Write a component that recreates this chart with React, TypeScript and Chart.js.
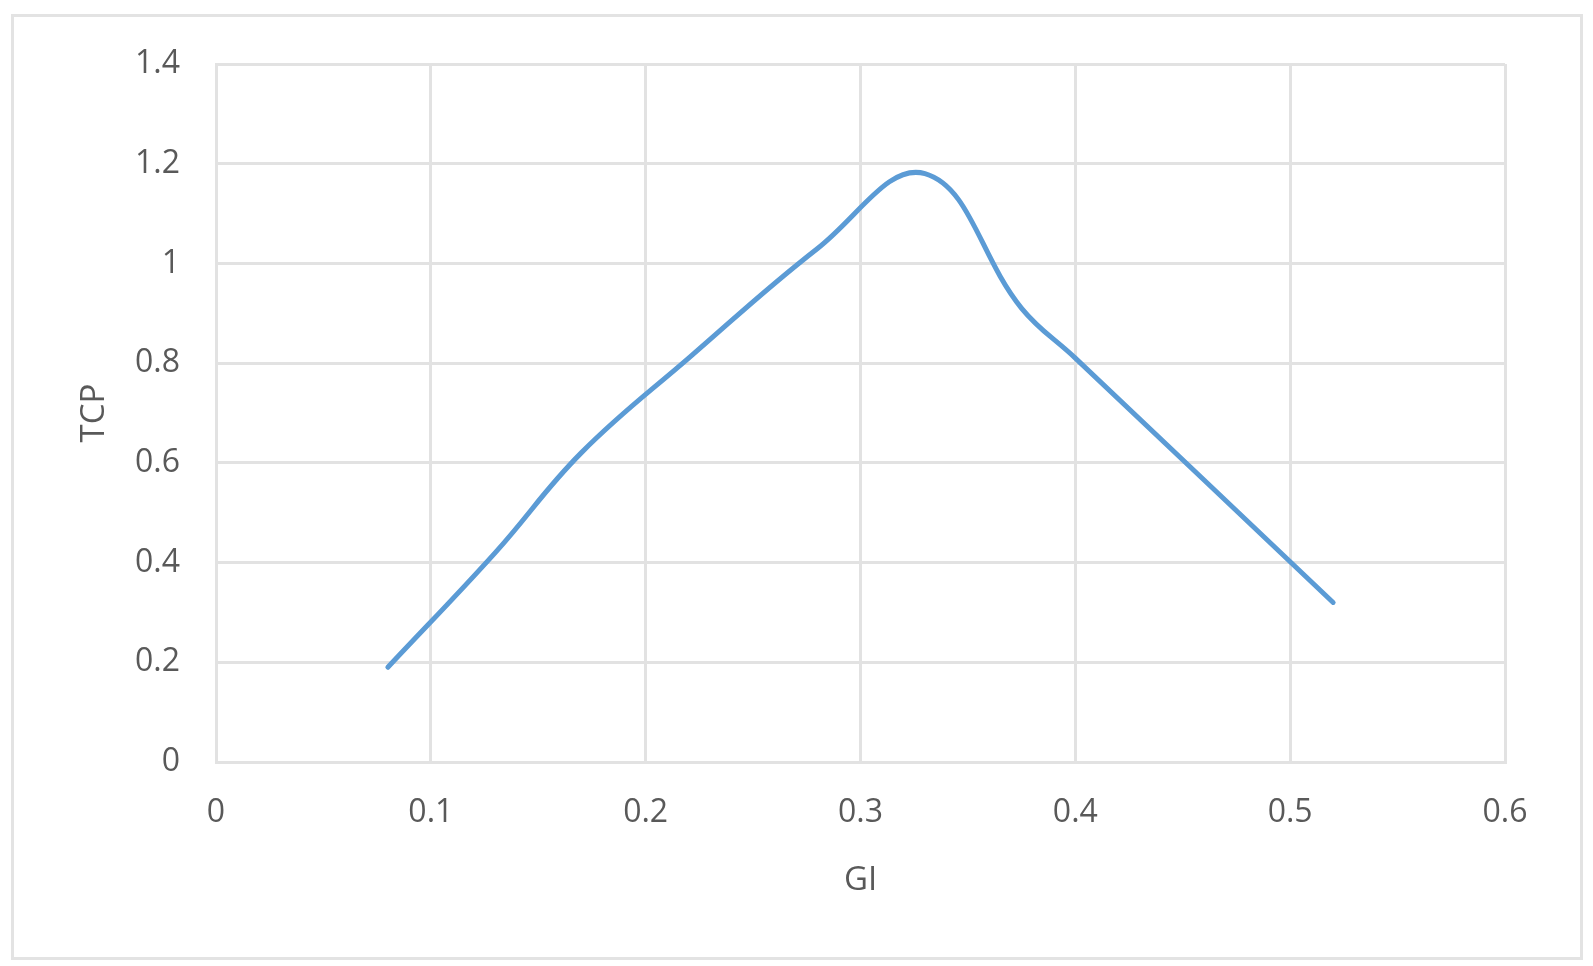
import React, { useEffect, useRef } from "react";
import { Chart, registerables } from "chart.js";

Chart.register(...registerables);

const gi = [0.08, 0.13, 0.17, 0.22, 0.28, 0.33, 0.375, 0.40, 0.52];
const tcp = [0.19, 0.42, 0.62, 0.81, 1.03, 1.18, 0.91, 0.81, 0.32];
const xTickLabels = ["0", "0.1", "0.2", "0.3", "0.4", "0.5", "0.6"];
const yTickLabels = ["0", "0.2", "0.4", "0.6", "0.8", "1", "1.2", "1.4"];
const xTitle = "GI";
const yTitle = "TCP";

const FONT = "'Open Sans', 'Segoe UI', 'DejaVu Sans', sans-serif";
const GRID = "#e2e2e2";
const TEXT = "#595959";

export default function App() {
  const ref = useRef<HTMLCanvasElement | null>(null);
  useEffect(() => {
    if (!ref.current) return;
    const chart = new Chart(ref.current, {
      type: "line",
      data: {
        datasets: [
          {
            label: yTitle,
            data: gi.map((x, i) => ({ x, y: tcp[i] })),
            borderColor: "#5b9bd5",
            borderWidth: 5,
            pointRadius: 0,
            tension: 0.4,
            fill: false,
            borderCapStyle: "round",
            borderJoinStyle: "round",
          },
        ],
      },
      options: {
        animation: false,
        responsive: false,
        maintainAspectRatio: false,
        layout: { padding: { left: 0, right: 88, top: 64, bottom: 0 } },
        plugins: { legend: { display: false }, tooltip: { enabled: false } },
        scales: {
          x: {
            type: "linear",
            min: 0,
            max: 0.6,
            afterFit: (s: any) => {
              s.height = 204;
            },
            ticks: {
              stepSize: 0.1,
              padding: 32,
              color: TEXT,
              font: { family: FONT, size: 32 },
              maxRotation: 0,
              callback: (_v: any, i: number) => xTickLabels[i],
            },
            grid: { color: GRID, lineWidth: 3, drawTicks: false },
            border: { color: GRID, width: 3 },
            title: {
              display: true,
              text: xTitle,
              color: TEXT,
              font: { family: FONT, size: 33 },
              padding: { top: 0, bottom: 66 },
            },
          },
          y: {
            type: "linear",
            min: 0,
            max: 1.4,
            afterFit: (s: any) => {
              s.width = 216;
            },
            ticks: {
              stepSize: 0.2,
              padding: 36,
              color: TEXT,
              font: { family: FONT, size: 32 },
              callback: (_v: any, i: number) => yTickLabels[i],
            },
            grid: { color: GRID, lineWidth: 3, drawTicks: false },
            border: { color: GRID, width: 3 },
            title: {
              display: true,
              text: yTitle,
              color: TEXT,
              font: { family: FONT, size: 33 },
              padding: { top: 75, bottom: 0 },
            },
          },
        },
      },
    });
    return () => chart.destroy();
  }, []);
  return (
    <div style={{ position: "fixed", left: 0, top: 0, width: 1593, height: 966, background: "#fff" }}>
      <div
        style={{
          position: "absolute",
          left: 11,
          top: 14,
          width: 1566,
          height: 940,
          border: "3px solid #e3e3e3",
        }}
      />
      <canvas ref={ref} width={1593} height={966} style={{ position: "absolute", left: 0, top: 0 }} />
    </div>
  );
}
